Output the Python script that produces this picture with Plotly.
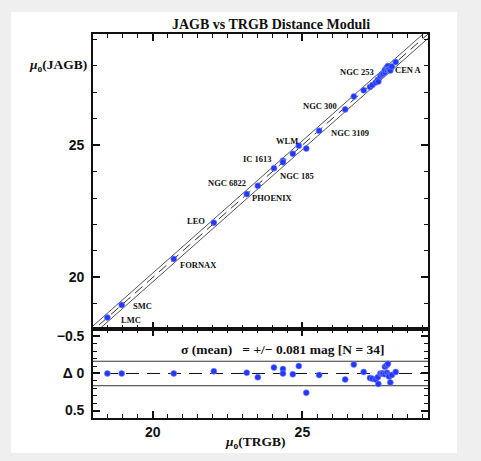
import plotly.graph_objects as go

# ---------------- data ----------------
trgb = [18.48, 18.96, 20.70, 22.04, 23.14, 23.51, 24.05, 24.35, 24.35, 24.68,
        24.88, 25.13, 25.56, 26.43, 26.72, 27.05, 27.26, 27.34, 27.45, 27.52,
        27.54, 27.61, 27.66, 27.70, 27.76, 27.76, 27.82, 27.83, 27.86, 27.88,
        27.90, 27.94, 27.99, 28.12]
jagb = [18.48, 18.96, 20.70, 22.07, 23.15, 23.46, 24.13, 24.41, 24.35, 24.67,
        24.98, 24.87, 25.54, 26.35, 26.84, 27.07, 27.20, 27.27, 27.37, 27.47,
        27.40, 27.61, 27.66, 27.70, 27.75, 27.85, 27.93, 27.84, 27.99, 27.86,
        27.86, 27.82, 27.97, 28.14]
delta = [t - j for t, j in zip(trgb, jagb)]

# galaxy name labels and the index of the point each describes
galaxy_labels = ["LMC", "SMC", "FORNAX", "LEO", "PHOENIX", "NGC 6822", "IC 1613",
                 "NGC 185", "WLM", "NGC 3109", "NGC 300", "NGC 253", "CEN A"]
galaxy_index = [0, 1, 2, 3, 4, 5, 6, 8, 10, 12, 13, 23, 31]

band_halfwidth = 0.165          # +/- band around one-to-one line
line_extent = [17.0, 30.0]      # x span for the reference lines
sigma_text = "σ (mean)   = +/− 0.081 mag [N = 34]"

x_range = [18.0, 29.2]
y_range = [18.05, 29.2]
d_range = [0.6, -0.6]

main_yticks = [20, 25]
x_ticks = [20, 25]
d_tickvals = [-0.5, 0, 0.5]
d_ticktext = ["−0.5", "Δ 0", "0.5"]

# label offsets (pixels) relative to their points
label_shift = {
    "LMC": (24, -2), "SMC": (21, -1), "FORNAX": (25, -6), "LEO": (-18, 2),
    "PHOENIX": (26, -4), "NGC 6822": (-31, 3), "IC 1613": (-16, 9),
    "NGC 185": (14, -14), "WLM": (-12, 5), "NGC 3109": (31, -2),
    "NGC 300": (-25, 3), "NGC 253": (-26, 2), "CEN A": (18, 1),
}

BLUE = "rgb(35,55,255)"
SERIF = "Liberation Serif"
SANS = "Liberation Sans"

fig = go.Figure()

# reference lines, main panel
lx = line_extent
fig.add_trace(go.Scatter(x=lx, y=lx, mode="lines", xaxis="x", yaxis="y",
                         line=dict(color="#333", width=1, dash="10px,6px"), hoverinfo="skip"))
for s in (band_halfwidth, -band_halfwidth):
    fig.add_trace(go.Scatter(x=lx, y=[v + s for v in lx], mode="lines", xaxis="x", yaxis="y",
                             line=dict(color="#555", width=1), hoverinfo="skip"))

fig.add_trace(go.Scatter(x=trgb, y=jagb, mode="markers", xaxis="x", yaxis="y",
                         marker=dict(color=BLUE, size=6, line=dict(width=0.6, color="rgb(120,140,255)"))))

# residual panel
fig.add_trace(go.Scatter(x=lx, y=[0, 0], mode="lines", xaxis="x2", yaxis="y2",
                         line=dict(color="#111", width=1, dash="13px,8px"), hoverinfo="skip"))
for s in (band_halfwidth, -band_halfwidth):
    fig.add_trace(go.Scatter(x=lx, y=[s, s], mode="lines", xaxis="x2", yaxis="y2",
                             line=dict(color="#333", width=1), hoverinfo="skip"))
fig.add_trace(go.Scatter(x=trgb, y=delta, mode="markers", xaxis="x2", yaxis="y2",
                         marker=dict(color=BLUE, size=6, line=dict(width=0.6, color="rgb(120,140,255)"))))

annotations = []
for name, idx in zip(galaxy_labels, galaxy_index):
    dx, dy = label_shift[name]
    annotations.append(dict(x=trgb[idx], y=jagb[idx], xref="x", yref="y", text=name,
                            showarrow=False, xshift=dx, yshift=dy,
                            xanchor="center", yanchor="middle",
                            font=dict(family=SERIF, size=8.5, color="#111", weight="bold")))

annotations += [
    dict(x=0.531, y=1.026, xref="paper", yref="paper", text="JAGB vs TRGB Distance Moduli",
         showarrow=False, xanchor="center", yanchor="middle",
         font=dict(family=SERIF, size=14, color="#111", weight="bold")),
    dict(x=-0.104, y=0.919, xref="paper", yref="paper",
         text="<i>μ</i><sub>o</sub>(JAGB)", showarrow=False, xanchor="center", yanchor="middle",
         font=dict(family=SERIF, size=13.5, color="#111", weight="bold")),
    dict(x=0.484, y=-0.065, xref="paper", yref="paper",
         text="<i>μ</i><sub>o</sub>(TRGB)", showarrow=False, xanchor="center", yanchor="middle",
         font=dict(family=SERIF, size=13.5, color="#111", weight="bold")),
    dict(x=24.33, y=-0.32, xref="x2", yref="y2", text=sigma_text, showarrow=False,
         xanchor="center", yanchor="middle",
         font=dict(family=SERIF, size=13.5, color="#111", weight="bold")),
]

axis_common = dict(showline=True, linecolor="#111", linewidth=1.6, mirror="allticks",
                   ticks="inside", ticklen=7, tickwidth=1.6, tickcolor="#111",
                   showgrid=False, zeroline=False,
                   tickfont=dict(family=SANS, size=14, color="#111", weight="bold"))

fig.update_layout(
    width=481, height=461,
    margin=dict(l=93, r=53, t=34, b=43),
    paper_bgcolor="#efefef", plot_bgcolor="white",
    showlegend=False,
    xaxis=dict(axis_common, domain=[0, 1], range=x_range, anchor="y",
               tickvals=x_ticks, showticklabels=False,
               minor=dict(dtick=0.5, tick0=0, ticks="inside", ticklen=4, tickwidth=1.2, tickcolor="#111")),
    yaxis=dict(axis_common, domain=[0.2318, 1], range=y_range, anchor="x",
               tickvals=main_yticks, ticklabelstandoff=4,
               minor=dict(dtick=1, tick0=0, ticks="inside", ticklen=4, tickwidth=1.2, tickcolor="#111")),
    xaxis2=dict(axis_common, domain=[0, 1], range=x_range, anchor="y2", matches="x",
                tickvals=x_ticks,
                minor=dict(dtick=0.5, tick0=0, ticks="inside", ticklen=4, tickwidth=1.2, tickcolor="#111")),
    yaxis2=dict(axis_common, domain=[0, 0.2318], range=d_range, anchor="x2",
                tickvals=d_tickvals, ticktext=d_ticktext, ticklabelstandoff=4,
                minor=dict(dtick=0.1, tick0=0, ticks="inside", ticklen=4, tickwidth=1.2, tickcolor="#111")),
    annotations=annotations,
    shapes=[dict(type="rect", xref="paper", yref="paper", x0=-0.2448, x1=1.0866,
                 y0=-0.0911, y1=1.0573, fillcolor="white", line=dict(width=0), layer="below")],
)

fig.write_html("out.html", config={"displayModeBar": False},
               post_script="document.body.style.margin='0';")
